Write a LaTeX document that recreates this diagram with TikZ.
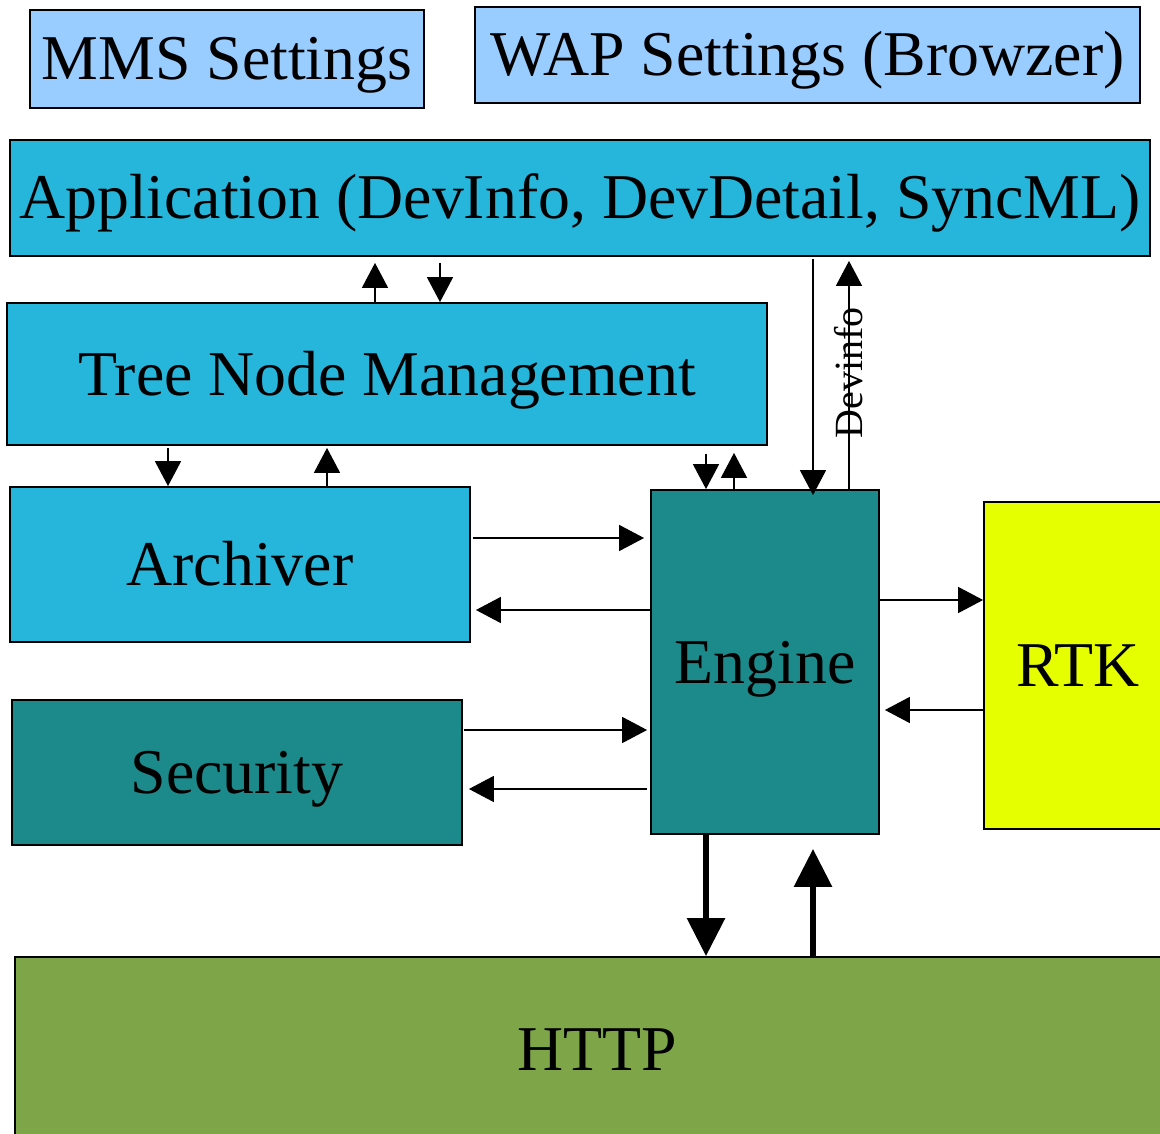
\documentclass[tikz,border=0pt]{standalone}
\usepackage{fontspec}
\setmainfont{Liberation Serif}
\usetikzlibrary{arrows.meta}
\definecolor{lblue}{RGB}{153,204,255}
\definecolor{cyanbox}{RGB}{38,182,220}
\definecolor{tealbox}{RGB}{28,138,138}
\definecolor{yelbox}{RGB}{230,255,0}
\definecolor{greenbox}{RGB}{126,166,72}
\begin{document}
\begin{tikzpicture}[x=1pt,y=-1pt,
  box/.style={draw=black, line width=1.8pt, inner sep=0pt, text height=50pt, text depth=8pt, font=\fontsize{63.8}{70}\selectfont},
  arr/.style={line width=1.6pt, -{Triangle[length=25pt,width=26pt]}},
  thickarr/.style={line width=6pt, -{Triangle[length=38pt,width=37pt]}},
  lbl/.style={font=\fontsize{40}{44}\selectfont, inner sep=0pt}]
\useasboundingbox (0,0) rectangle (1160,1134);
\clip (0,0) rectangle (1160,1134);
\fill[white] (0,0) rectangle (1160,1134);

\node[box, fill=lblue, minimum width=394pt, minimum height=98pt] (mms) at (227,59) {MMS Settings};
\node[box, fill=lblue, minimum width=665pt, minimum height=96pt] (wap) at (807.5,55) {WAP Settings (Browzer)};
\node[box, fill=cyanbox, minimum width=1140pt, minimum height=116pt] (app) at (580,198) {Application (DevInfo, DevDetail, SyncML)};
\node[box, fill=cyanbox, minimum width=760pt, minimum height=142pt] (tree) at (387,374) {Tree Node Management};
\node[box, fill=cyanbox, minimum width=460pt, minimum height=155pt] (arch) at (240,564.5) {Archiver};
\node[box, fill=tealbox, minimum width=450pt, minimum height=145pt] (sec) at (237,772.5) {Security};
\node[box, fill=tealbox, minimum width=228pt, minimum height=344pt] (eng) at (765,662) {Engine};
\node[box, fill=yelbox, minimum width=188pt, minimum height=327pt] (rtk) at (1078,665.5) {RTK};
\node[box, fill=greenbox, minimum width=1164pt, minimum height=184pt] (http) at (597,1049) {HTTP};

% Application <-> Tree
\draw[arr, shorten >=6pt] (375,0 |- tree.north) -- (375,0 |- app.south);
\draw[arr, shorten <=6pt] (440,0 |- app.south) -- (440,0 |- tree.north);
% Tree <-> Archiver
\draw[arr, shorten <=2pt] (168,0 |- tree.south) -- (168,0 |- arch.north);
\draw[arr, shorten >=2pt] (327,0 |- arch.north) -- (327,0 |- tree.south);
% Tree <-> Engine
\draw[arr, shorten <=8pt] (706,0 |- tree.south) -- (706,0 |- eng.north);
\draw[arr, shorten >=7pt] (734,0 |- eng.north) -- (734,0 |- tree.south);
% Application <-> Engine
\draw[arr, shorten <=2pt, shorten >=-6pt] (813,0 |- app.south) -- (813,0 |- eng.north);
\draw[arr, shorten >=4pt] (849,0 |- eng.north) -- (849,0 |- app.south)
  node[lbl, midway, rotate=90] {Devinfo};
% Archiver <-> Engine
\draw[arr, shorten <=2pt, shorten >=6pt] (arch.east |- 0,538) -- (eng.west |- 0,538);
\draw[arr, shorten >=5pt] (eng.west |- 0,610) -- (arch.east |- 0,610);
% Security <-> Engine
\draw[arr, shorten <=1pt, shorten >=3pt] (sec.east |- 0,730) -- (eng.west |- 0,730);
\draw[arr, shorten <=3pt, shorten >=6pt] (eng.west |- 0,789) -- (sec.east |- 0,789);
% Engine <-> RTK
\draw[arr] (eng.east |- 0,600) -- (rtk.west |- 0,600);
\draw[arr, shorten >=5pt] (rtk.west |- 0,710) -- (eng.east |- 0,710);
% Engine <-> HTTP
\draw[thickarr] (706,0 |- eng.south) -- (706,0 |- http.north);
\draw[thickarr, shorten >=14pt] (813,0 |- http.north) -- (813,0 |- eng.south);
\end{tikzpicture}
\end{document}
